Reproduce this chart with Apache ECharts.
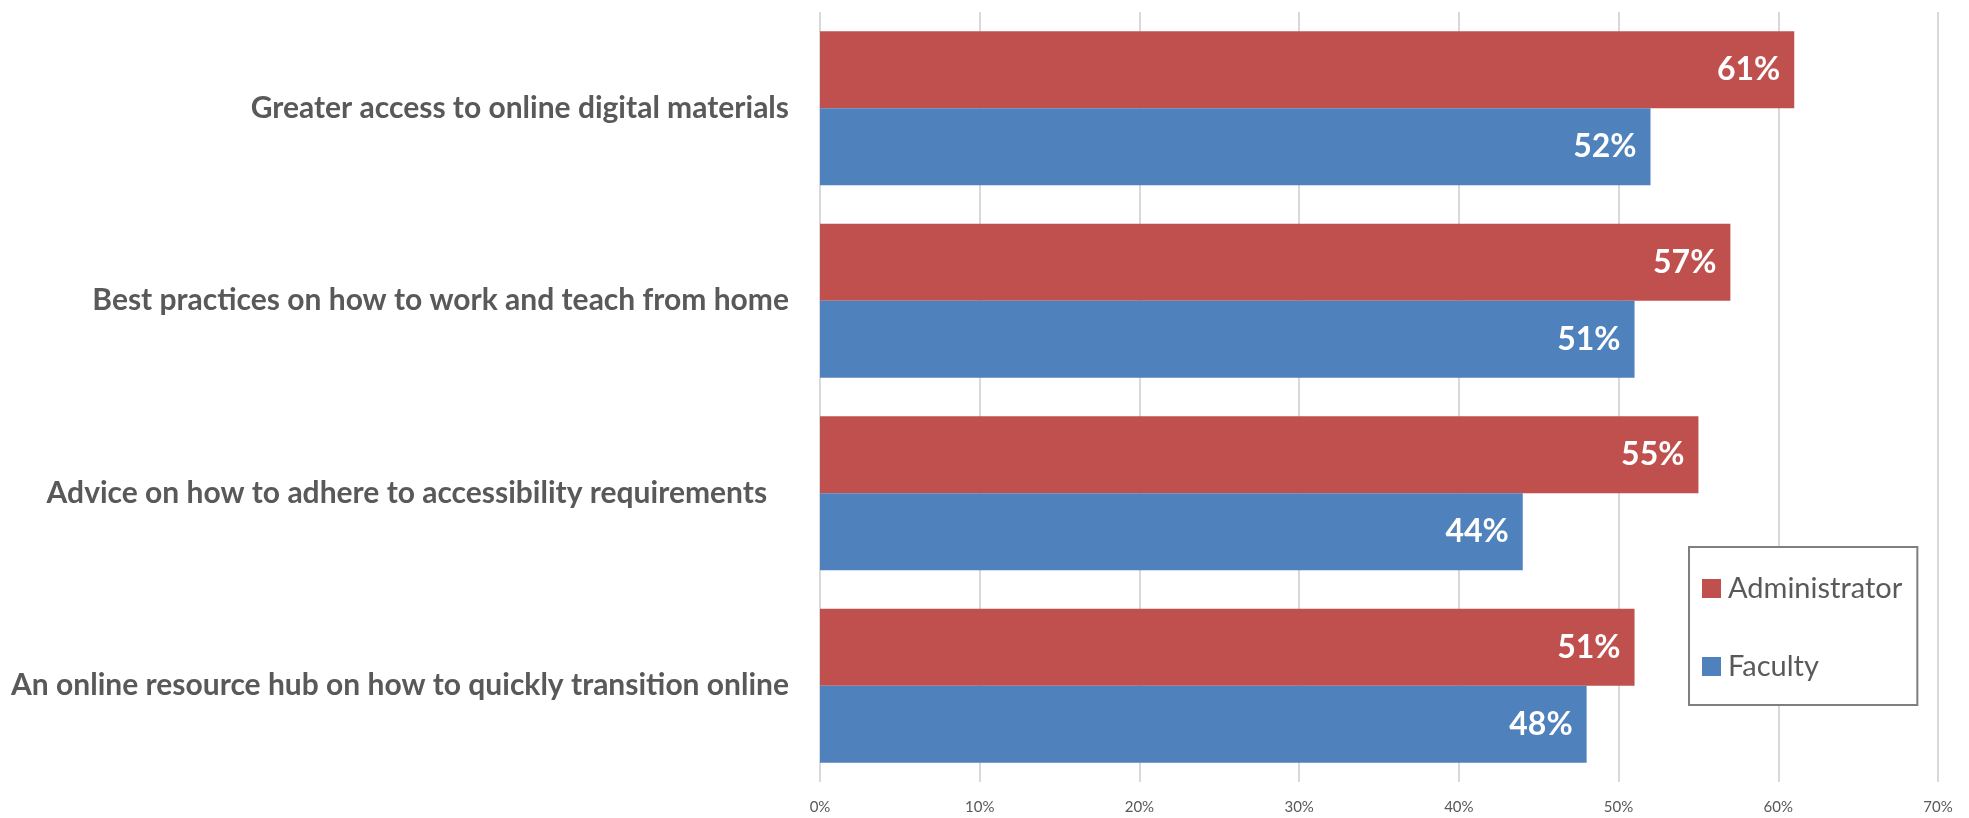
<!DOCTYPE html>
<html>
<head>
<meta charset="utf-8">
<script src="https://cdn.jsdelivr.net/npm/echarts@6/dist/echarts.min.js"></script>
<style>
  html, body { margin: 0; padding: 0; background: #ffffff; }
  #chart { width: 1969px; height: 818px; }
</style>
</head>
<body>
<div id="chart"></div>
<script>
// Survey items, listed top to bottom
const categories = [
  'Greater access to online digital materials',
  'Best practices on how to work and teach from home',
  'Advice on how to adhere to accessibility requirements   ',
  'An online resource hub on how to quickly transition online'
];
// Share of respondents (%) per group
const administratorValues = [61, 57, 55, 51];
const facultyValues = [52, 51, 44, 48];
const seriesNames = ['Administrator', 'Faculty'];
// x-axis range and step (%)
const axisMin = 0;
const axisMax = 70;
const axisStep = 10;

const FONT = 'Lato, "Liberation Sans", sans-serif';
const TEXT_GREY = '#595959';

const barLabel = {
  show: true,
  position: 'insideRight',
  distance: 14,
  color: '#ffffff',
  fontFamily: FONT,
  fontWeight: 'bold',
  fontSize: 32,
  formatter: p => p.value + '%'
};

const chart = echarts.init(document.getElementById('chart'), null, { renderer: 'canvas' });
chart.setOption({
  animation: false,
  backgroundColor: '#ffffff',
  grid: { left: 820, right: 31, top: 12, bottom: 36, containLabel: false },
  legend: {
    orient: 'vertical',
    left: 1689,
    top: 547,
    padding: [27, 15, 24, 13],
    backgroundColor: '#ffffff',
    borderColor: '#7f7f7f',
    borderWidth: 2,
    itemWidth: 19,
    itemHeight: 19,
    itemGap: 49,
    icon: 'rect',
    data: seriesNames,
    textStyle: { color: TEXT_GREY, fontFamily: FONT, fontSize: 29, lineHeight: 19, padding: [0, 0, 0, 2] }
  },
  xAxis: {
    type: 'value',
    min: axisMin,
    max: axisMax,
    interval: axisStep,
    axisLine: { show: false },
    axisTick: { show: false },
    splitLine: { show: true, lineStyle: { color: '#d9d9d9', width: 2 } },
    axisLabel: {
      color: TEXT_GREY,
      fontFamily: FONT,
      fontSize: 15,
      margin: 18,
      formatter: v => v + '%'
    }
  },
  yAxis: {
    type: 'category',
    data: categories,
    inverse: true,
    axisLine: { show: false },
    axisTick: { show: false },
    axisLabel: {
      color: TEXT_GREY,
      fontFamily: FONT,
      fontWeight: 'bold',
      fontSize: 30,
      margin: 31
    }
  },
  series: [
    {
      name: seriesNames[0],
      type: 'bar',
      data: administratorValues,
      barGap: '0%',
      barCategoryGap: '20%',
      itemStyle: { color: '#C0504D' },
      label: barLabel
    },
    {
      name: seriesNames[1],
      type: 'bar',
      data: facultyValues,
      barGap: '0%',
      barCategoryGap: '20%',
      itemStyle: { color: '#4F81BD' },
      label: barLabel
    }
  ]
});
</script>
</body>
</html>
